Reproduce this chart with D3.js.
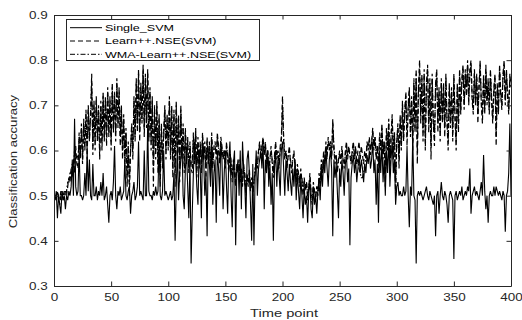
<!DOCTYPE html>
<html>
<head>
<meta charset="utf-8">
<script src="https://cdn.jsdelivr.net/npm/d3@7"></script>
<style>
body { margin: 0; background: #fff; }
text { font-family: "Liberation Sans", Arial, Helvetica, sans-serif; }
</style>
</head>
<body>
<div class="container"></div>
<script>
// initial setup
const w = 522;
const h = 320;

const [margin_top, margin_left, margin_bottom, margin_right] = [15, 54, 34, 11]

const plotWidth = w - margin_left - margin_right;
const plotHeight = h - margin_top - margin_bottom;

// data
const xTicks = [0, 50, 100, 150, 200, 250, 300, 350, 400];
const yTicks = [0.3, 0.4, 0.5, 0.6, 0.7, 0.8, 0.9];
const seriesNames = ['Single_SVM', 'Learn++.NSE(SVM)', 'WMA-Learn++.NSE(SVM)'];

// accuracy at time points 1..400
const singleSVM = [
  0.49,0.51,0.45,0.50,0.48,0.46,0.51,0.49,0.50,0.47,0.50,0.49,0.51,0.50,0.52,0.58,0.50,0.67,0.52,0.50,
  0.51,0.60,0.50,0.50,0.49,0.50,0.55,0.50,0.60,0.51,0.58,0.50,0.49,0.57,0.50,0.50,0.52,0.49,0.51,0.50,
  0.53,0.50,0.55,0.49,0.50,0.52,0.48,0.44,0.50,0.51,0.49,0.53,0.61,0.50,0.47,0.51,0.50,0.52,0.49,0.50,
  0.51,0.58,0.50,0.49,0.51,0.52,0.46,0.50,0.51,0.53,0.49,0.50,0.52,0.62,0.50,0.51,0.50,0.49,0.60,0.50,
  0.50,0.66,0.51,0.50,0.50,0.49,0.51,0.50,0.52,0.50,0.51,0.62,0.50,0.49,0.51,0.60,0.50,0.51,0.50,0.49,
  0.50,0.51,0.49,0.50,0.55,0.40,0.52,0.60,0.49,0.55,0.58,0.62,0.50,0.47,0.56,0.60,0.52,0.45,0.58,0.35,
  0.46,0.55,0.62,0.58,0.52,0.48,0.60,0.56,0.45,0.62,0.58,0.50,0.55,0.41,0.60,0.57,0.52,0.62,0.48,0.55,
  0.58,0.44,0.60,0.56,0.50,0.62,0.58,0.47,0.55,0.60,0.52,0.46,0.58,0.62,0.50,0.43,0.57,0.60,0.39,0.55,
  0.58,0.50,0.60,0.47,0.62,0.56,0.52,0.45,0.58,0.60,0.55,0.48,0.40,0.57,0.39,0.54,0.60,0.50,0.56,0.58,
  0.60,0.56,0.62,0.47,0.58,0.55,0.60,0.52,0.57,0.48,0.55,0.40,0.56,0.60,0.52,0.58,0.55,0.50,0.60,0.62,
  0.56,0.50,0.58,0.55,0.51,0.57,0.53,0.50,0.56,0.52,0.58,0.49,0.55,0.51,0.47,0.54,0.50,0.45,0.52,0.48,
  0.50,0.44,0.51,0.53,0.47,0.45,0.52,0.48,0.50,0.46,0.51,0.53,0.49,0.56,0.52,0.58,0.55,0.60,0.56,0.52,
  0.58,0.60,0.56,0.41,0.58,0.54,0.57,0.51,0.45,0.56,0.52,0.58,0.55,0.50,0.57,0.59,0.53,0.56,0.39,0.54,
  0.57,0.59,0.55,0.58,0.53,0.56,0.59,0.55,0.58,0.56,0.53,0.57,0.55,0.59,0.57,0.60,0.56,0.58,0.62,0.55,
  0.58,0.48,0.57,0.44,0.60,0.55,0.62,0.53,0.58,0.50,0.60,0.55,0.63,0.52,0.58,0.62,0.55,0.58,0.48,0.52,
  0.53,0.50,0.51,0.50,0.50,0.52,0.50,0.51,0.61,0.50,0.43,0.52,0.50,0.63,0.50,0.49,0.35,0.50,0.51,0.50,
  0.51,0.50,0.49,0.50,0.51,0.52,0.50,0.49,0.51,0.50,0.49,0.48,0.50,0.41,0.50,0.51,0.46,0.50,0.53,0.50,
  0.49,0.51,0.50,0.48,0.44,0.50,0.51,0.50,0.49,0.36,0.50,0.51,0.49,0.50,0.51,0.50,0.52,0.49,0.50,0.51,
  0.50,0.52,0.51,0.56,0.46,0.50,0.51,0.52,0.50,0.51,0.50,0.49,0.51,0.53,0.50,0.59,0.51,0.47,0.50,0.44,
  0.50,0.51,0.50,0.50,0.52,0.50,0.52,0.51,0.50,0.51,0.50,0.49,0.51,0.50,0.42,0.50,0.51,0.55,0.66,0.50
];

const learnNSE = [
  0.50,0.49,0.51,0.50,0.48,0.50,0.51,0.49,0.50,0.51,0.50,0.52,0.54,0.53,0.56,0.54,0.58,0.55,0.61,0.57,
  0.56,0.64,0.58,0.66,0.57,0.67,0.60,0.69,0.58,0.70,0.62,0.68,0.77,0.59,0.71,0.60,0.72,0.62,0.70,0.58,
  0.71,0.60,0.73,0.62,0.72,0.61,0.74,0.63,0.72,0.60,0.75,0.64,0.73,0.62,0.76,0.65,0.74,0.61,0.70,0.58,
  0.68,0.56,0.65,0.52,0.62,0.50,0.60,0.66,0.58,0.72,0.62,0.76,0.64,0.78,0.62,0.75,0.66,0.79,0.63,0.77,
  0.65,0.78,0.62,0.74,0.60,0.72,0.52,0.70,0.58,0.71,0.55,0.68,0.52,0.66,0.56,0.64,0.70,0.58,0.68,0.60,
  0.72,0.58,0.70,0.54,0.69,0.52,0.71,0.57,0.68,0.53,0.70,0.58,0.66,0.55,0.65,0.57,0.63,0.55,0.62,0.56,
  0.55,0.64,0.57,0.65,0.54,0.63,0.56,0.62,0.55,0.64,0.58,0.62,0.54,0.63,0.57,0.62,0.55,0.64,0.56,0.61,
  0.62,0.58,0.64,0.60,0.57,0.63,0.61,0.58,0.60,0.56,0.62,0.58,0.55,0.60,0.57,0.53,0.58,0.55,0.52,0.57,
  0.55,0.58,0.53,0.56,0.52,0.57,0.54,0.50,0.55,0.52,0.56,0.51,0.54,0.50,0.53,0.55,0.58,0.56,0.60,0.62,
  0.58,0.61,0.63,0.59,0.62,0.57,0.60,0.55,0.58,0.61,0.57,0.54,0.59,0.62,0.58,0.60,0.56,0.61,0.63,0.72,
  0.62,0.58,0.60,0.56,0.59,0.61,0.57,0.55,0.58,0.60,0.56,0.53,0.57,0.55,0.52,0.56,0.53,0.50,0.54,0.51,
  0.53,0.49,0.52,0.55,0.50,0.48,0.53,0.51,0.49,0.52,0.50,0.55,0.52,0.58,0.55,0.60,0.57,0.62,0.58,0.63,
  0.60,0.62,0.58,0.67,0.60,0.57,0.59,0.55,0.58,0.60,0.57,0.61,0.58,0.56,0.60,0.62,0.58,0.61,0.59,0.57,
  0.60,0.62,0.59,0.61,0.57,0.60,0.62,0.58,0.61,0.59,0.57,0.60,0.58,0.62,0.60,0.63,0.59,0.62,0.65,0.60,
  0.63,0.58,0.61,0.55,0.64,0.60,0.66,0.58,0.62,0.52,0.65,0.60,0.67,0.55,0.63,0.68,0.58,0.64,0.50,0.62,
  0.66,0.56,0.68,0.60,0.71,0.62,0.69,0.73,0.61,0.70,0.74,0.63,0.72,0.60,0.76,0.64,0.78,0.57,0.74,0.80,
  0.66,0.77,0.62,0.78,0.60,0.75,0.79,0.64,0.76,0.58,0.77,0.66,0.61,0.75,0.78,0.64,0.74,0.62,0.76,0.66,
  0.75,0.63,0.77,0.66,0.60,0.75,0.65,0.74,0.62,0.77,0.67,0.60,0.75,0.64,0.78,0.68,0.76,0.79,0.69,0.78,
  0.72,0.80,0.70,0.78,0.80,0.71,0.68,0.78,0.70,0.77,0.66,0.74,0.80,0.70,0.66,0.77,0.68,0.79,0.70,0.76,
  0.68,0.78,0.71,0.66,0.74,0.77,0.61,0.75,0.68,0.79,0.72,0.69,0.77,0.80,0.70,0.78,0.72,0.68,0.77,0.74
];

const wmaLearnNSE = [
  0.50,0.50,0.51,0.49,0.49,0.51,0.50,0.50,0.51,0.50,0.51,0.53,0.53,0.55,0.55,0.57,0.56,0.60,0.58,0.59,
  0.58,0.63,0.59,0.65,0.58,0.66,0.61,0.68,0.60,0.69,0.63,0.67,0.75,0.61,0.70,0.62,0.71,0.63,0.69,0.60,
  0.70,0.62,0.72,0.63,0.71,0.63,0.73,0.64,0.71,0.62,0.74,0.65,0.72,0.64,0.75,0.66,0.73,0.63,0.69,0.60,
  0.67,0.58,0.64,0.54,0.61,0.53,0.60,0.65,0.60,0.71,0.63,0.75,0.65,0.77,0.64,0.74,0.67,0.78,0.65,0.76,
  0.66,0.77,0.63,0.73,0.62,0.71,0.56,0.69,0.60,0.70,0.57,0.67,0.55,0.65,0.58,0.63,0.69,0.60,0.67,0.61,
  0.71,0.60,0.69,0.56,0.68,0.55,0.70,0.59,0.67,0.56,0.69,0.59,0.65,0.57,0.64,0.58,0.62,0.56,0.61,0.57,
  0.57,0.63,0.58,0.64,0.56,0.62,0.57,0.61,0.57,0.63,0.59,0.61,0.56,0.62,0.58,0.61,0.57,0.63,0.57,0.60,
  0.61,0.59,0.63,0.61,0.58,0.62,0.60,0.59,0.60,0.57,0.61,0.59,0.56,0.59,0.58,0.54,0.57,0.56,0.53,0.56,
  0.56,0.57,0.54,0.56,0.53,0.56,0.55,0.51,0.54,0.53,0.55,0.52,0.53,0.51,0.53,0.56,0.57,0.57,0.60,0.61,
  0.59,0.61,0.62,0.60,0.61,0.58,0.60,0.56,0.58,0.60,0.58,0.55,0.58,0.61,0.59,0.60,0.57,0.60,0.62,0.70,
  0.63,0.59,0.60,0.57,0.59,0.60,0.58,0.56,0.58,0.59,0.57,0.54,0.56,0.55,0.53,0.55,0.54,0.51,0.53,0.52,
  0.53,0.50,0.52,0.54,0.51,0.49,0.52,0.51,0.50,0.52,0.51,0.54,0.53,0.57,0.56,0.59,0.58,0.61,0.59,0.62,
  0.61,0.62,0.59,0.66,0.61,0.58,0.59,0.56,0.58,0.59,0.58,0.60,0.58,0.57,0.59,0.61,0.59,0.60,0.59,0.58,
  0.59,0.61,0.58,0.60,0.57,0.58,0.56,0.55,0.54,0.54,0.55,0.57,0.58,0.61,0.61,0.62,0.60,0.62,0.64,0.61,
  0.63,0.59,0.61,0.57,0.63,0.61,0.65,0.59,0.62,0.55,0.64,0.61,0.66,0.57,0.63,0.67,0.60,0.64,0.53,0.62,
  0.65,0.58,0.67,0.61,0.70,0.63,0.68,0.72,0.63,0.69,0.73,0.64,0.71,0.62,0.75,0.65,0.77,0.60,0.73,0.78,
  0.68,0.76,0.64,0.77,0.62,0.74,0.78,0.66,0.75,0.61,0.76,0.67,0.63,0.74,0.77,0.66,0.73,0.64,0.75,0.67,
  0.74,0.65,0.76,0.67,0.62,0.74,0.66,0.73,0.64,0.76,0.68,0.62,0.74,0.66,0.77,0.69,0.75,0.78,0.70,0.77,
  0.73,0.79,0.71,0.77,0.79,0.72,0.69,0.77,0.71,0.76,0.68,0.74,0.79,0.71,0.68,0.76,0.69,0.78,0.71,0.75,
  0.69,0.77,0.72,0.67,0.73,0.76,0.63,0.74,0.69,0.78,0.73,0.70,0.76,0.79,0.71,0.77,0.73,0.69,0.76,0.75
];

const axisColor = '#262626';
const dashes = [null, '5,3', '5,2,1.5,2'];
const widths = [1.1, 1.2, 1.2];

const svg = d3.select('.container')
              .append('svg')
              .attr('width', w)
              .attr('height', h);

svg.append('rect').attr('width', w).attr('height', h).attr('fill', '#fff');

const plot = svg.append('g')
                .attr('transform', `translate(${margin_left}, ${margin_top})`);

const x = d3.scaleLinear()
            .domain([0, 400])
            .range([0, plotWidth]);

const y = d3.scaleLinear()
            .domain([0.3, 0.9])
            .range([plotHeight, 0]);

// series lines, last one on top like matlab
const line = d3.line()
               .x((d, i) => x(i + 1))
               .y(d => y(d));

[singleSVM, learnNSE, wmaLearnNSE].forEach((values, k) => {
    plot.append('path')
        .datum(values)
        .attr('fill', 'none')
        .attr('stroke', '#000')
        .attr('stroke-width', widths[k])
        .attr('stroke-dasharray', dashes[k])
        .attr('d', line);
});

// axes (ticks point inward)
const xGroup = plot.append('g')
                   .attr('transform', `translate(0, ${plotHeight})`);
const yGroup = plot.append('g');
const topGroup = plot.append('g');
const rightGroup = plot.append('g')
                       .attr('transform', `translate(${plotWidth}, 0)`);

const xAxis = d3.axisBottom(x)
                .tickValues(xTicks)
                .tickSizeInner(-4.5)
                .tickSizeOuter(0)
                .tickPadding(8)
                .tickFormat(d3.format('d'));
const yAxis = d3.axisLeft(y)
                .tickValues(yTicks)
                .tickSizeInner(-4.5)
                .tickSizeOuter(0)
                .tickPadding(4.7)
                .tickFormat(d3.format('.1f'));

xGroup.call(xAxis);
yGroup.call(yAxis);
topGroup.call(d3.axisTop(x).tickValues(xTicks).tickSizeInner(-4.5).tickSizeOuter(0).tickFormat(''));
rightGroup.call(d3.axisRight(y).tickValues(yTicks).tickSizeInner(-4.5).tickSizeOuter(0).tickFormat(''));

plot.selectAll('.domain, .tick line')
    .attr('stroke', axisColor)
    .attr('stroke-width', 1);

// matlab text looks wide, stretch it along the reading direction
[xGroup, yGroup].forEach(g => {
    g.attr('font-family', null).attr('font-size', null);
    g.selectAll('text')
     .attr('fill', axisColor)
     .style('font-size', '10px')
     .attr('transform', 'scale(1.35,1)');
});
yGroup.selectAll('text').attr('dy', '0.34em');

// axis labels
svg.append('text')
   .attr('transform', 'translate(17, 161.5) rotate(-90) scale(1.25,1)')
   .attr('text-anchor', 'middle')
   .attr('fill', axisColor)
   .style('font-size', '10.5px')
   .text('Classification accuracy');

svg.append('text')
   .attr('transform', 'translate(284, 316.5) scale(1.4,1)')
   .attr('text-anchor', 'middle')
   .attr('fill', axisColor)
   .style('font-size', '10.5px')
   .text('Time point');

// legend
const legend = svg.append('g');
legend.append('rect')
      .attr('x', 66.5)
      .attr('y', 19.5)
      .attr('width', 193)
      .attr('height', 41)
      .attr('fill', '#fff')
      .attr('stroke', axisColor)
      .attr('stroke-width', 1);

seriesNames.forEach((name, k) => {
    const cy = 27.7 + k * 13.3;
    legend.append('line')
          .attr('x1', 70)
          .attr('x2', 102)
          .attr('y1', cy)
          .attr('y2', cy)
          .attr('stroke', '#000')
          .attr('stroke-width', 1)
          .attr('stroke-dasharray', dashes[k]);
    legend.append('text')
          .attr('transform', `translate(105, ${cy + 3.3}) scale(1.32,1)`)
          .attr('fill', '#000')
          .style('font-size', '9.5px')
          .text(name);
});
</script>
</body>
</html>
